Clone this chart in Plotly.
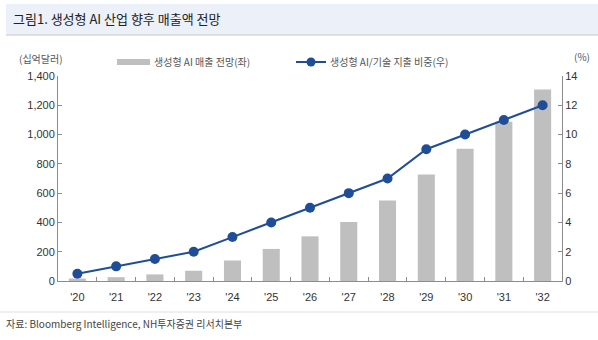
import plotly.graph_objects as go

years = ["'20", "'21", "'22", "'23", "'24", "'25", "'26", "'27", "'28", "'29", "'30", "'31", "'32"]
revenue = [17, 26, 45, 70, 140, 219, 305, 403, 550, 728, 903, 1087, 1308]
share = [0.5, 1, 1.5, 2, 3, 4, 5, 6, 7, 9, 10, 11, 12]
left_ticks = [0, 200, 400, 600, 800, 1000, 1200, 1400]
right_ticks = [0, 2, 4, 6, 8, 10, 12, 14]

FONT = "Noto Sans CJK KR"
TICKFONT = "Liberation Sans, Arial, sans-serif"
W, H = 598, 340
L, R, T, B = 58, 562, 76, 281

def px(x):
    return (x - L) / (R - L)

def py(y):
    return (B - y) / (B - T)

fig = go.Figure()
fig.add_trace(go.Bar(x=years, y=revenue, name="생성형 AI 매출 전망(좌)",
                     marker=dict(color="#BFBFBF", line=dict(width=0)), width=0.44,
                     showlegend=False))
fig.add_trace(go.Scatter(x=years, y=share, yaxis="y2", mode="lines+markers",
                         line=dict(color="#1F4E96", width=2),
                         marker=dict(color="#1F4E96", size=10), showlegend=False))

axis_common = dict(showgrid=False, zeroline=False, showline=True, linecolor="#8C8C8C",
                   linewidth=1, ticks="inside", tickcolor="#8C8C8C", ticklen=4,
                   tickfont=dict(family=TICKFONT, size=11, color="#333333"))

fig.update_layout(
    width=W, height=H,
    margin=dict(l=L, r=W - R, t=T, b=H - B),
    paper_bgcolor="white", plot_bgcolor="white",
    bargap=0.56,
    xaxis=dict(**axis_common, type="category", tickson="boundaries",
               range=[-0.5, 12.5], tickvals=years, ticktext=years),
    yaxis=dict(**axis_common, range=[0, 1400], tickvals=left_ticks,
               ticktext=[f"{v:,}" for v in left_ticks]),
    yaxis2=dict(**axis_common, overlaying="y", side="right", range=[0, 14],
                tickvals=right_ticks),
    font=dict(family=FONT),
)
fig.update_xaxes(ticklabelstandoff=6)

shapes = [
    # title band
    dict(type="rect", xref="paper", yref="paper", x0=px(6), x1=px(598), y0=py(35), y1=py(4),
         fillcolor="#EBF0F9", line=dict(width=0), layer="below"),
    dict(type="line", xref="paper", yref="paper", x0=px(6), x1=px(598), y0=py(35), y1=py(35),
         line=dict(color="#D9D9D9", width=1.5)),
    # footer line
    dict(type="line", xref="paper", yref="paper", x0=px(0), x1=px(598), y0=py(312), y1=py(312),
         line=dict(color="#E0E0E0", width=1)),
    # legend swatches
    dict(type="rect", xref="paper", yref="paper", x0=px(117), x1=px(150), y0=py(65), y1=py(59),
         fillcolor="#BFBFBF", line=dict(width=0)),
    dict(type="line", xref="paper", yref="paper", x0=px(296), x1=px(326), y0=py(62), y1=py(62),
         line=dict(color="#1F4E96", width=2)),
    dict(type="circle", xref="paper", yref="paper", x0=px(306.5), x1=px(315.5), y0=py(66.5), y1=py(57.5),
         fillcolor="#1F4E96", line=dict(width=0)),
]
fig.update_layout(shapes=shapes)

def ann(text, x, y, size=10, color="#333333", xanchor="left"):
    fig.add_annotation(text=text, xref="paper", yref="paper", x=px(x), y=py(y),
                       xanchor=xanchor, yanchor="middle", showarrow=False,
                       font=dict(family=FONT, size=size, color=color))

ann("그림1. 생성형 AI 산업 향후 매출액 전망", 11, 19, size=13, color="#222222")
ann("(십억달러)", 17, 59, size=10, color="#555555")
ann("(%)", 572, 57, size=10, color="#555555")
ann("생성형 AI 매출 전망(좌)", 152, 62, size=10, color="#555555")
ann("생성형 AI/기술 지출 비중(우)", 328, 62, size=10, color="#555555")
ann("자료: Bloomberg Intelligence, NH투자증권 리서치본부", 4, 323, size=10, color="#444444")

fig.write_html("out.html")
